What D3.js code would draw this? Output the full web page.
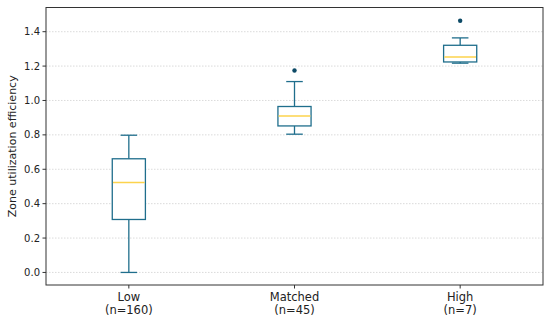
<!DOCTYPE html>
<html><head><meta charset="utf-8">
<script src="https://cdn.jsdelivr.net/npm/d3@7"></script>
<style>body{margin:0;background:#fff}svg{display:block;font-family:"DejaVu Sans",sans-serif}</style>
</head><body><svg id="c" width="550" height="322"></svg>
<script>
const categories = ["Low", "Matched", "High"];
const counts = [160, 45, 7];
const whiskerLow = [0.0, 0.804, 1.217];
const q1 = [0.308, 0.852, 1.224];
const median = [0.523, 0.910, 1.253];
const q3 = [0.661, 0.965, 1.321];
const whiskerHigh = [0.798, 1.110, 1.364];
const outliers = [[], [1.174], [1.464]];
const yTicks = [0.0, 0.2, 0.4, 0.6, 0.8, 1.0, 1.2, 1.4];

const svg = d3.select("#c");
const L = 46, R = 543, T = 7.5, B = 285;
const x = d3.scaleLinear().domain([0.5, 3.5]).range([L, R]);
const y = d3.scaleLinear().domain([-0.073, 1.5407]).range([B, T]);
const edge = "#1f6e8c", med = "#fcd34d", outc = "#0d4a66";
const bw = 0.2;

// grid
svg.append("g").selectAll("line").data(yTicks).join("line")
  .attr("x1", L).attr("x2", R).attr("y1", d => y(d)).attr("y2", d => y(d))
  .attr("stroke", "#cccccc").attr("stroke-width", 0.7).attr("stroke-dasharray", "1.5,1.5");

const g = svg.append("g");
categories.forEach((c, i) => {
  const p = i + 1;
  const bg = g.append("g");
  bg.append("line").attr("x1", x(p)).attr("x2", x(p)).attr("y1", y(q3[i])).attr("y2", y(whiskerHigh[i])).attr("stroke", edge).attr("stroke-width", 1.3);
  bg.append("line").attr("x1", x(p)).attr("x2", x(p)).attr("y1", y(q1[i])).attr("y2", y(whiskerLow[i])).attr("stroke", edge).attr("stroke-width", 1.3);
  [whiskerHigh[i], whiskerLow[i]].forEach(v => {
    bg.append("line").attr("x1", x(p - bw / 4)).attr("x2", x(p + bw / 4)).attr("y1", y(v)).attr("y2", y(v)).attr("stroke", edge).attr("stroke-width", 1.3);
  });
  bg.append("rect").attr("x", x(p - bw / 2)).attr("width", x(p + bw / 2) - x(p - bw / 2))
    .attr("y", y(q3[i])).attr("height", y(q1[i]) - y(q3[i]))
    .attr("fill", "white").attr("stroke", edge).attr("stroke-width", 1.3);
  bg.append("line").attr("x1", x(p - bw / 2) + 0.7).attr("x2", x(p + bw / 2) - 0.7).attr("y1", y(median[i])).attr("y2", y(median[i])).attr("stroke", med).attr("stroke-width", 1.6);
  bg.selectAll("circle").data(outliers[i]).join("circle")
    .attr("cx", x(p)).attr("cy", d => y(d)).attr("r", 2.2).attr("fill", outc);
});

svg.append("rect").attr("x", L).attr("y", T).attr("width", R - L).attr("height", B - T)
  .attr("fill", "none").attr("stroke", "#333").attr("stroke-width", 1);

const yg = svg.append("g").attr("font-size", 10).attr("fill", "#222");
yTicks.forEach(t => {
  yg.append("line").attr("x1", L - 3.5).attr("x2", L).attr("y1", y(t)).attr("y2", y(t)).attr("stroke", "#333");
  yg.append("text").attr("x", L - 6).attr("y", y(t)).attr("dy", "0.35em").attr("text-anchor", "end").text(t.toFixed(1));
});
const xg = svg.append("g").attr("font-size", 11.5).attr("fill", "#222");
categories.forEach((c, i) => {
  const p = i + 1;
  xg.append("line").attr("x1", x(p)).attr("x2", x(p)).attr("y1", B).attr("y2", B + 3.5).attr("stroke", "#333");
  xg.append("text").attr("x", x(p)).attr("y", B + 16).attr("text-anchor", "middle").text(c);
  xg.append("text").attr("x", x(p)).attr("y", B + 29).attr("text-anchor", "middle").text("(n=" + counts[i] + ")");
});
svg.append("text").attr("transform", `translate(16,${(T + B) / 2}) rotate(-90)`)
  .attr("text-anchor", "middle").attr("font-size", 11).attr("fill", "#222").text("Zone utilization efficiency");
</script></body></html>
